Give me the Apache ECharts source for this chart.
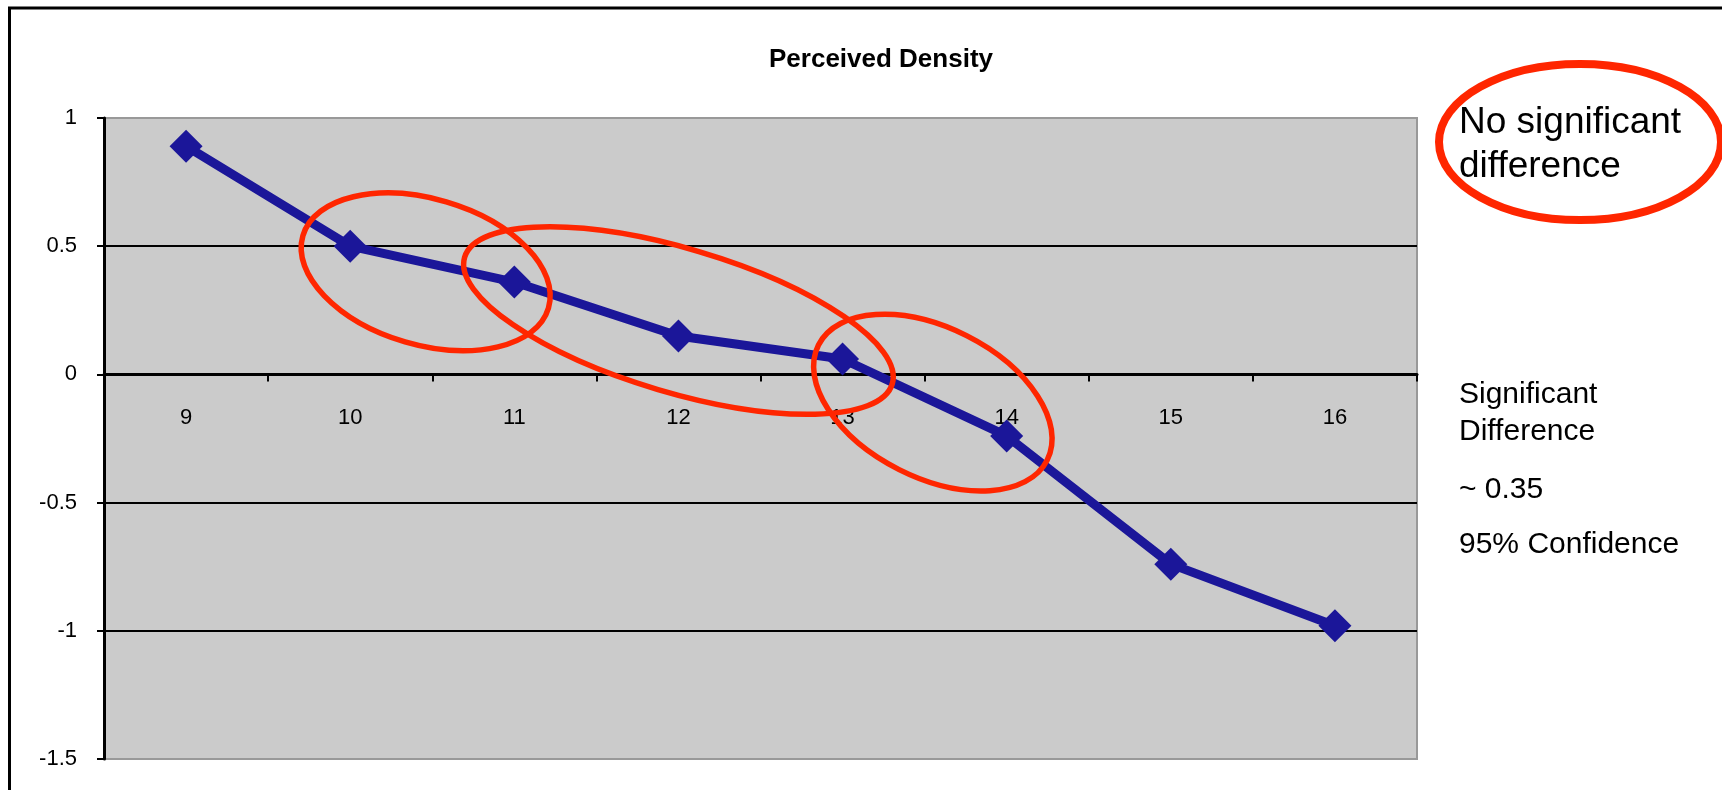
<!DOCTYPE html>
<html>
<head>
<meta charset="utf-8">
<title>Perceived Density</title>
<script src="https://cdn.jsdelivr.net/npm/echarts@6/dist/echarts.min.js"></script>
<style>
html, body { margin: 0; padding: 0; background: #fff; }
#chart { width: 1722px; height: 790px; }
</style>
</head>
<body>
<div id="chart"></div>
<script>
// data
var categories = ['9', '10', '11', '12', '13', '14', '15', '16'];
var density = [0.89, 0.50, 0.36, 0.15, 0.06, -0.24, -0.74, -0.98];
var yTicks = [-1.5, -1, -0.5, 0, 0.5, 1];

// red rings over the line: centre given as [category index, value]
var rings = [
    { at: [1.46, 0.40], rx: 128, ry: 73, deg: 16.4 },
    { at: [3.0, 0.21], rx: 223, ry: 72, deg: 16.5 },
    { at: [4.55, -0.11], rx: 128, ry: 75, deg: 26.7 }
];

var font = '"Liberation Sans", Arial, Helvetica, sans-serif';
var blue = '#1b1699';
var red = '#ff2600';

var myChart = echarts.init(document.getElementById('chart'));

var option = {
    animation: false,
    title: {
        text: 'Perceived Density',
        left: 764,
        top: 42,
        textStyle: { fontFamily: font, fontSize: 26, fontWeight: 'bold', color: '#000' }
    },
    grid: {
        left: 104,
        right: 305,
        top: 118,
        bottom: 31,
        outerBoundsMode: 'none',
        show: true,
        backgroundColor: '#cbcbcb',
        borderColor: '#999',
        borderWidth: 2
    },
    xAxis: {
        type: 'category',
        data: categories,
        boundaryGap: true,
        axisLine: { onZero: false, lineStyle: { color: '#000', width: 3 } },
        axisTick: { show: true, length: 7, lineStyle: { color: '#000', width: 2 } },
        axisLabel: { margin: 33, fontSize: 22, fontFamily: font, color: '#000' },
        splitLine: { show: false }
    },
    yAxis: {
        type: 'value',
        min: yTicks[0],
        max: yTicks[yTicks.length - 1],
        interval: yTicks[1] - yTicks[0],
        axisLine: { show: true, lineStyle: { color: '#000', width: 3 } },
        axisTick: { show: true, length: 7, lineStyle: { color: '#000', width: 2 } },
        axisLabel: { margin: 27, fontSize: 22, fontFamily: font, color: '#000' },
        splitLine: {
            show: true,
            showMinLine: false,
            showMaxLine: false,
            lineStyle: { color: '#000', width: 2 }
        }
    },
    series: [
        {
            name: 'Perceived Density',
            type: 'line',
            data: density,
            symbol: 'diamond',
            symbolSize: 33,
            lineStyle: { color: blue, width: 9 },
            itemStyle: { color: blue },
            z: 3
        }
    ]
};
myChart.setOption(option);

// put the category axis (line, ticks and labels) on y = 0
var zeroY = myChart.convertToPixel({ yAxisIndex: 0 }, 0);
var bottomY = myChart.convertToPixel({ yAxisIndex: 0 }, yTicks[0]);
myChart.setOption({ xAxis: { offset: zeroY - bottomY } });

// category axis rounds indexes, so interpolate between neighbours by hand
function toPixel(ix, v) {
    var i = Math.floor(ix), f = ix - i;
    var a = myChart.convertToPixel({ gridIndex: 0 }, [i, v]);
    var b = myChart.convertToPixel({ gridIndex: 0 }, [i + 1, v]);
    return [a[0] + (b[0] - a[0]) * f, a[1]];
}

var graphics = [
    {
        type: 'rect',
        shape: { x: 9.5, y: 8, width: 2000, height: 2000 },
        style: { fill: 'none', stroke: '#000', lineWidth: 3 },
        silent: true
    }
];

rings.forEach(function (r) {
    var p = toPixel(r.at[0], r.at[1]);
    graphics.push({
        type: 'ellipse',
        x: p[0],
        y: p[1],
        rotation: -r.deg * Math.PI / 180,
        shape: { cx: 0, cy: 0, rx: r.rx, ry: r.ry },
        style: { fill: 'none', stroke: red, lineWidth: 5.5 },
        z: 10
    });
});

graphics.push({
    type: 'ellipse',
    x: 1580,
    y: 142,
    shape: { cx: 0, cy: 0, rx: 141, ry: 78 },
    style: { fill: 'none', stroke: red, lineWidth: 8 },
    z: 10
});

var notes = [
    { text: 'No significant', y: 122.5, size: 37 },
    { text: 'difference', y: 166.5, size: 37 },
    { text: 'Significant', y: 395, size: 30 },
    { text: 'Difference', y: 432, size: 30 },
    { text: '~ 0.35', y: 490, size: 30 },
    { text: '95% Confidence', y: 545, size: 30 }
];
notes.forEach(function (n) {
    graphics.push({
        type: 'text',
        x: 1459,
        y: n.y,
        style: {
            text: n.text,
            fontSize: n.size,
            fontFamily: font,
            fill: '#000',
            textAlign: 'left',
            verticalAlign: 'middle'
        },
        z: 11
    });
});

myChart.setOption({ graphic: graphics });
</script>
</body>
</html>
